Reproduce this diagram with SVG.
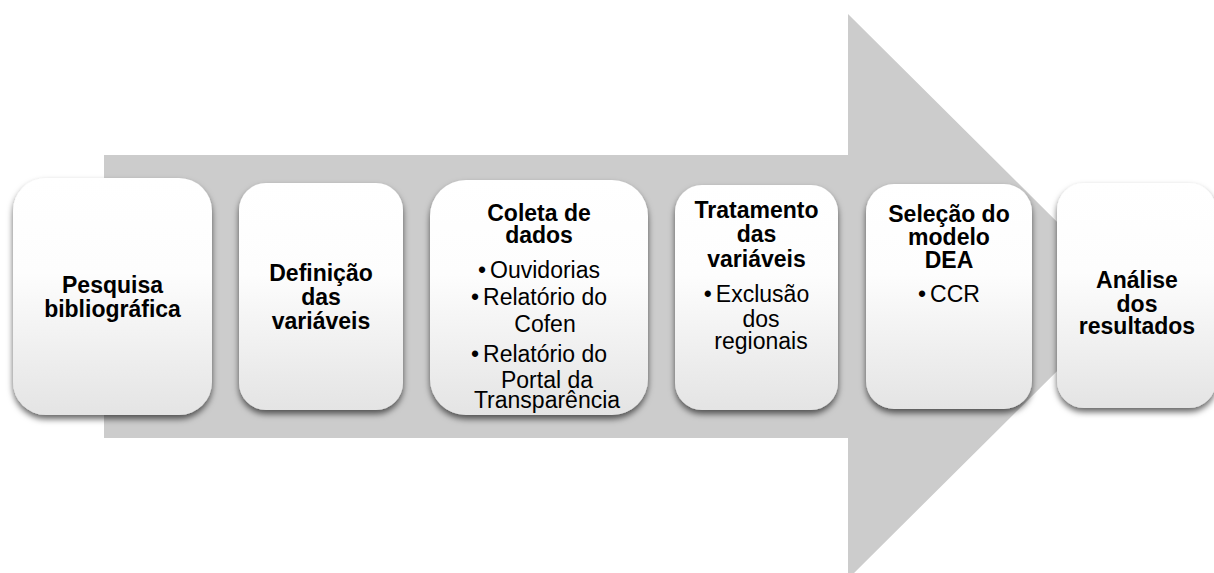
<svg xmlns="http://www.w3.org/2000/svg" width="1214" height="573" viewBox="0 0 1214 573">
  <defs>
    <linearGradient id="boxFill" x1="0" y1="0" x2="0" y2="1">
      <stop offset="0" stop-color="#ffffff"/>
      <stop offset="0.4" stop-color="#fdfdfd"/>
      <stop offset="1" stop-color="#e4e4e4"/>
    </linearGradient>
    <filter id="shadow" x="-10%" y="-10%" width="120%" height="125%">
      <feGaussianBlur in="SourceAlpha" stdDeviation="3"/>
      <feOffset dx="0" dy="4" result="b"/>
      <feFlood flood-color="#000000" flood-opacity="0.6"/>
      <feComposite in2="b" operator="in"/>
      <feMerge>
        <feMergeNode/>
        <feMergeNode in="SourceGraphic"/>
      </feMerge>
    </filter>
  </defs>
  <style>
    .box { fill: url(#boxFill); filter: url(#shadow); }
    .t { font-family: "Liberation Sans", Arial, sans-serif; font-size: 23px; fill: #000000; text-anchor: middle; }
    .b { font-weight: bold; }
  </style>
  <rect width="1214" height="573" fill="#ffffff"/>
  <g id="connectors">
    <polygon points="104,155 848,155 848,14 1132,296.5 848,579 848,438 104,438" fill="#cccccc"/>
  </g>
  <g id="node1">
    <rect class="box" x="13" y="178" width="199" height="237" rx="33" ry="33"/>
    <text class="t b" x="112.5" y="293">Pesquisa</text>
    <text class="t b" x="112.5" y="317">bibliográfica</text>
  </g>
  <g id="node2">
    <rect class="box" x="239" y="183" width="164" height="227" rx="27" ry="27"/>
    <text class="t b" x="321" y="281">Definição</text>
    <text class="t b" x="321" y="305">das</text>
    <text class="t b" x="321" y="329">variáveis</text>
  </g>
  <g id="node3">
    <rect class="box" x="430" y="180" width="218" height="235" rx="36" ry="36"/>
    <text class="t b" x="539" y="221">Coleta de</text>
    <text class="t b" x="539" y="243">dados</text>
    <text class="t" x="539" y="278"><tspan>•</tspan><tspan dx="4">Ouvidorias</tspan></text>
    <text class="t" x="539" y="305"><tspan>•</tspan><tspan dx="4">Relatório do</tspan></text>
    <text class="t" x="545" y="332">Cofen</text>
    <text class="t" x="539" y="362"><tspan>•</tspan><tspan dx="4">Relatório do</tspan></text>
    <text class="t" x="547" y="388">Portal da</text>
    <text class="t" x="547" y="408">Transparência</text>
  </g>
  <g id="node4">
    <rect class="box" x="675" y="185" width="163" height="225" rx="27" ry="27"/>
    <text class="t b" x="756.5" y="218">Tratamento</text>
    <text class="t b" x="756.5" y="242">das</text>
    <text class="t b" x="756.5" y="267">variáveis</text>
    <text class="t" x="756.5" y="302"><tspan>•</tspan><tspan dx="4">Exclusão</tspan></text>
    <text class="t" x="761" y="327">dos</text>
    <text class="t" x="761" y="349">regionais</text>
  </g>
  <g id="node5">
    <rect class="box" x="866" y="184" width="166" height="225" rx="28" ry="28"/>
    <text class="t b" x="949" y="222">Seleção do</text>
    <text class="t b" x="949" y="245">modelo</text>
    <text class="t b" x="949" y="268">DEA</text>
    <text class="t" x="949" y="302"><tspan>•</tspan><tspan dx="4">CCR</tspan></text>
  </g>
  <g id="node6">
    <rect class="box" x="1057" y="183" width="159" height="225" rx="27" ry="27"/>
    <text class="t b" x="1137" y="288">Análise</text>
    <text class="t b" x="1137" y="312">dos</text>
    <text class="t b" x="1137" y="334">resultados</text>
  </g>
</svg>
